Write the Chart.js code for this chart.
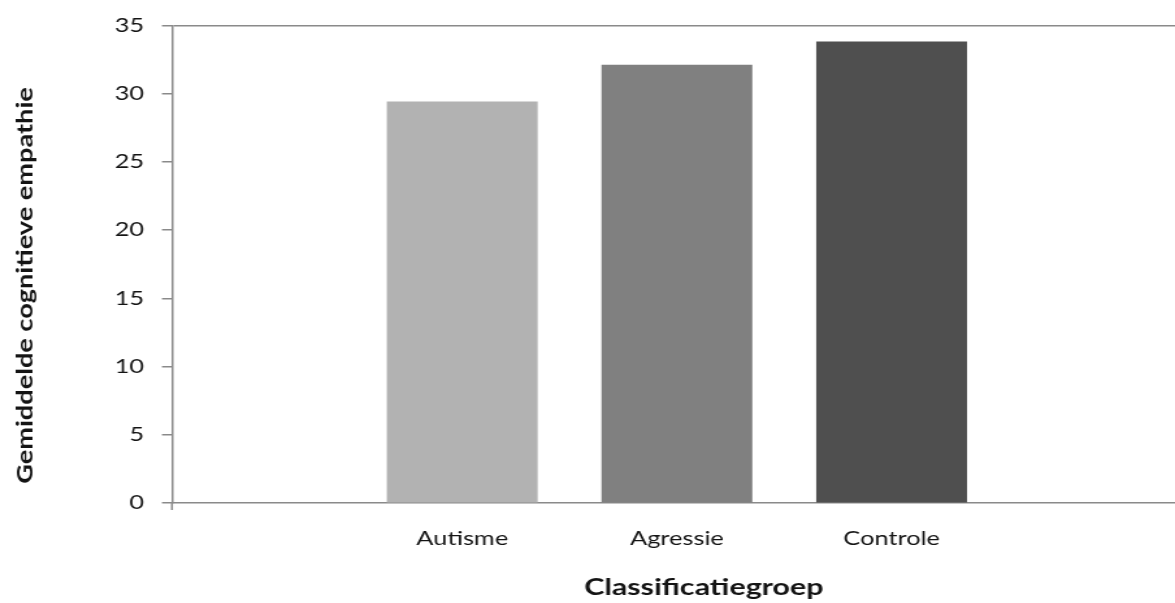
<!DOCTYPE html>
<html>
<head>
<meta charset="utf-8">
<script src="https://cdn.jsdelivr.net/npm/chart.js@4/dist/chart.umd.min.js"></script>
<style>
  html, body { margin: 0; padding: 0; background: #ffffff; overflow: hidden; }
  /* the chart is drawn narrow and widened, giving its text the broad look */
  #wrap { width: 904px; height: 603px; transform: scaleX(1.29978); transform-origin: 0 0; }
</style>
</head>
<body>
<div id="wrap"><canvas id="c" width="904" height="603"></canvas></div>
<script>
// Mean cognitive empathy per classification group
const groups = ['Autisme', 'Agressie', 'Controle'];
const meanEmpathy = [29.4, 32.1, 33.8];
const barColors = ['#b2b2b2', '#808080', '#4f4f4f'];
const yTicks = [0, 5, 10, 15, 20, 25, 30, 35];
const xTitle = 'Classificatiegroep';
const yTitle = 'Gemiddelde cognitieve empathie';

const widen = 1.29978;
const axisGray = '#8a8a8a';
const textColor = '#141414';
const tickFont = { family: "Lato, 'Open Sans', sans-serif", size: 19.5 };
const xTitleFont = "bold 23.4px Lato, 'Open Sans', sans-serif";
const yTitleFont = "bold 23px Lato, 'Open Sans', sans-serif";

// Groups sit at positions 1..n on a numeric axis so the empty margins around them can be set freely
const points = meanEmpathy.map((v, i) => ({ x: i + 1, y: v }));

const axisTitles = {
  id: 'axisTitles',
  afterDraw(chart) {
    const ctx = chart.ctx;
    const a = chart.chartArea;
    ctx.save();
    ctx.fillStyle = textColor;
    ctx.textAlign = 'center';
    ctx.textBaseline = 'middle';
    ctx.font = xTitleFont;
    ctx.fillText(xTitle, 541.5, 587);
    // vertical title: undo the widening, then lengthen along the text direction
    ctx.translate(19.3, 285.5);
    ctx.scale(1 / widen, 1);
    ctx.rotate(-Math.PI / 2);
    ctx.scale(1.18, 1);
    ctx.font = yTitleFont;
    ctx.fillText(yTitle, 0, 0);
    ctx.restore();
    // short downward extension of the value axis below the baseline
    ctx.save();
    ctx.strokeStyle = axisGray;
    ctx.lineWidth = 1.5;
    ctx.beginPath();
    ctx.moveTo(a.left, a.bottom);
    ctx.lineTo(a.left, a.bottom + 7);
    ctx.stroke();
    ctx.restore();
  }
};

new Chart(document.getElementById('c'), {
  type: 'bar',
  data: {
    datasets: [{
      data: points,
      backgroundColor: barColors,
      borderWidth: 0,
      barThickness: 115.4
    }]
  },
  options: {
    responsive: false,
    animation: false,
    layout: { padding: { left: 0, right: 0, top: 21, bottom: 0 } },
    plugins: { legend: { display: false }, tooltip: { enabled: false } },
    scales: {
      x: {
        type: 'linear',
        offset: false,
        min: -0.352,
        max: 4.32,
        afterBuildTicks(scale) {
          scale.ticks = groups.map((g, i) => ({ value: i + 1 }));
        },
        afterFit(scale) { scale.height = 100; },
        ticks: {
          callback: (v) => groups[v - 1] || '',
          color: textColor,
          font: tickFont,
          padding: 24,
          maxRotation: 0,
          autoSkip: false
        },
        grid: { display: true, drawOnChartArea: false, drawTicks: false, tickLength: 0 },
        border: { display: true, color: axisGray, width: 1.5 }
      },
      y: {
        min: 0,
        max: 35,
        afterBuildTicks(scale) {
          scale.ticks = yTicks.map(v => ({ value: v }));
        },
        afterFit(scale) { scale.width = 132.3; },
        ticks: {
          color: textColor,
          font: tickFont,
          padding: 13.8
        },
        grid: {
          color: (c) => (c.tick && c.tick.value === 35 ? axisGray : 'transparent'),
          tickColor: axisGray,
          tickLength: 7.7,
          lineWidth: 1.5
        },
        border: { display: true, color: axisGray, width: 1.5 }
      }
    }
  },
  plugins: [axisTitles]
});
</script>
</body>
</html>
